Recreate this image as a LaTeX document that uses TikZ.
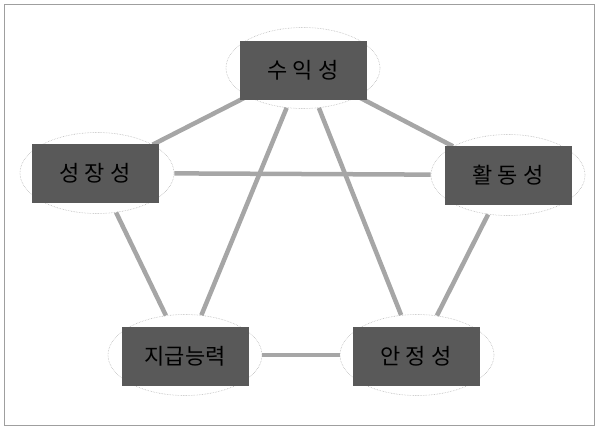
\documentclass[tikz,border=0pt]{standalone}
\usepackage{fontspec}
\newfontfamily\krfont{Noto Sans CJK KR}
\usepackage{tikz}
\usetikzlibrary{calc,positioning,shapes.geometric}

\begin{document}
\begin{tikzpicture}[
  x=1pt, y=-1pt,
  font=\krfont\fontsize{22}{26}\selectfont,
  every node/.style={align=center},
  ring/.style={ellipse, draw=gray!55, densely dotted, line width=0.6pt, minimum width=154pt, minimum height=81pt, inner sep=0pt},
  cell/.style={rectangle, fill=black!65, text=black, minimum width=127pt, minimum height=59pt, inner sep=0pt},
  link/.style={line width=4.5pt, gray!70}
]
  \useasboundingbox (0,0) rectangle (599,426);
  \draw[gray!75, line width=0.8pt] (4.5,4.5) rectangle (594.5,425);

  % ellipses
  \node[ring] (suik)  at (303,68)  {};
  \node[ring] (seong) at (97,173)  {};
  \node[ring] (hwal)  at (508,175) {};
  \node[ring] (jigeup) at (185,355) {};
  \node[ring] (anjeong) at (417,355) {};

  % links between the ellipses
  \foreach \a/\b in {suik/seong, suik/hwal, seong/hwal, suik/jigeup, suik/anjeong,
                     seong/jigeup, hwal/anjeong, jigeup/anjeong} {
    \draw[link] (\a) -- (\b);
  }

  % boxes
  \node[cell] (suikbox)    at (303,70)  {수 익 성};
  \node[cell] (seongbox)   at (95,173)  {성 장 성};
  \node[cell] (hwalbox)    at (508,175) {활 동 성};
  \node[cell] (jigeupbox)  at (185,356) {지급능력};
  \node[cell] (anjeongbox) at (416,356) {안 정 성};
\end{tikzpicture}
\end{document}
